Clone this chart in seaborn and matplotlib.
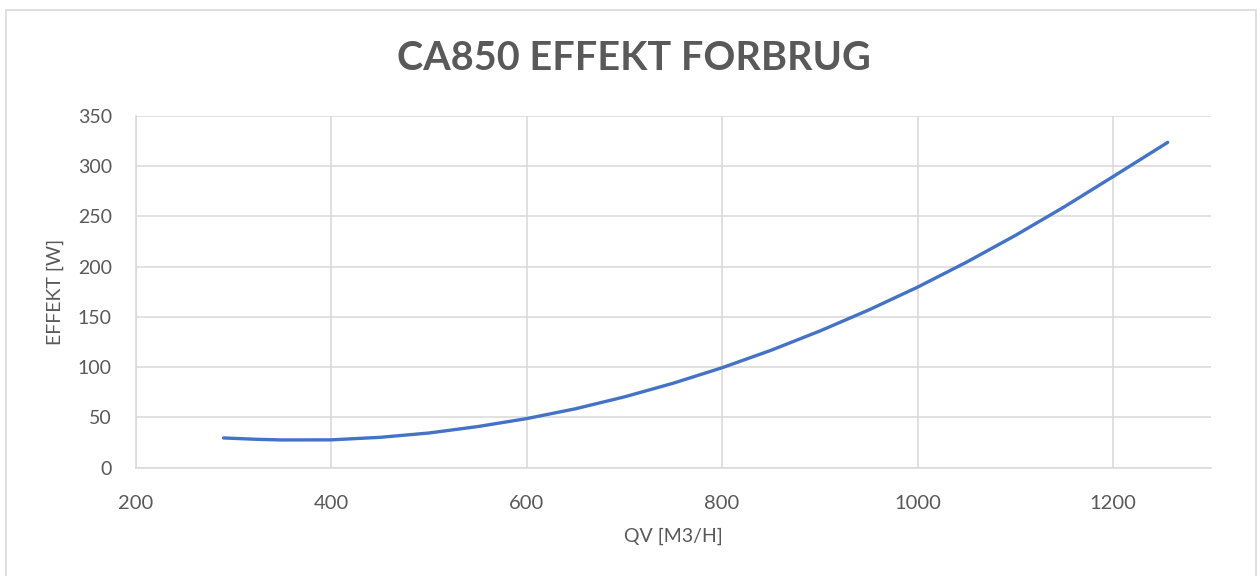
import matplotlib
matplotlib.use("Agg")
import matplotlib.pyplot as plt
import seaborn as sns
import pandas as pd
from matplotlib.patches import Rectangle

# Data
qv = [290, 325, 350, 400, 450, 500, 550, 600, 650, 700, 750,
      800, 850, 900, 950, 1000, 1050, 1100, 1150, 1200, 1256]
effekt = [29.6, 28.2, 27.6, 27.7, 30.2, 34.5, 40.9, 48.8, 58.6, 70.4, 84.0,
          99.4, 116.7, 135.9, 156.8, 179.5, 204.3, 230.9, 259.3, 289.4, 323.5]
x_ticks = [200, 400, 600, 800, 1000, 1200]
y_ticks = [0, 50, 100, 150, 200, 250, 300, 350]

df = pd.DataFrame({"QV": qv, "Effekt": effekt})

sns.set_style("white")
plt.rcParams["font.family"] = ["Lato", "DejaVu Sans"]

text_color = "#595959"
grid_color = "#d9d9d9"

fig = plt.figure(figsize=(12.6, 5.76), dpi=100)
ax = fig.add_axes([0.1076, 0.188, 0.8533, 0.6111])

sns.lineplot(data=df, x="QV", y="Effekt", ax=ax, color="#4472C4",
             linewidth=2.4, sort=False)

ax.set_xlim(200, 1300)
ax.set_ylim(0, 350)
ax.set_xticks(x_ticks)
ax.set_yticks(y_ticks)

ax.grid(True, color=grid_color, linewidth=1.1)
ax.set_axisbelow(True)
for side in ["top", "right"]:
    ax.spines[side].set_visible(False)
for side in ["left", "bottom"]:
    ax.spines[side].set_color(grid_color)
    ax.spines[side].set_linewidth(1.1)

ax.tick_params(axis="both", length=0, labelsize=14, labelcolor=text_color)
ax.tick_params(axis="x", pad=20, labelsize=14.5)
ax.tick_params(axis="y", pad=17)

ax.set_xlabel("QV [M3/H]", fontsize=14, color=text_color, labelpad=11)
ax.set_ylabel("EFFEKT [W]", fontsize=14, color=text_color, labelpad=10)

fig.text(0.503, 0.898, "CA850 EFFEKT FORBRUG", ha="center", va="center",
         fontsize=28.5, fontweight="bold", color=text_color)

# Chart area border
fig.patches.append(Rectangle((6 / 1260, -0.05), 1250 / 1260, 1 - 10 / 576 + 0.05,
                             transform=fig.transFigure, fill=False,
                             edgecolor=grid_color, linewidth=1.2))

plt.savefig("out.png", dpi=100)
plt.close()
